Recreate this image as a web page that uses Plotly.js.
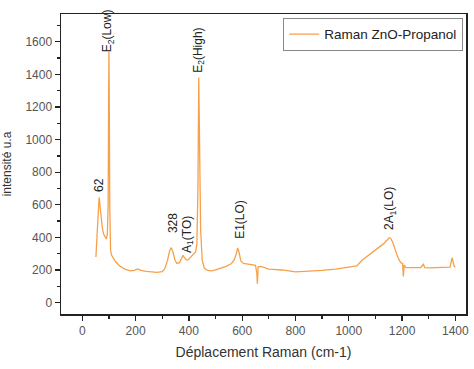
<!DOCTYPE html>
<html>
<head>
<meta charset="utf-8">
<script src="https://cdn.plot.ly/plotly-3.0.1.min.js"></script>
<style>html,body{margin:0;padding:0;background:#fff;}#chart{width:474px;height:369px;}</style>
</head>
<body>
<div id="chart"></div>
<script>
const seriesName = "Raman ZnO-Propanol";
const shift = [51, 56, 60, 63, 66, 70, 75, 80, 85, 90, 94, 97, 99, 100, 101, 103, 106, 110, 116, 125, 140, 160, 180, 195, 208, 220, 240, 260, 280, 300, 310, 320, 328, 334, 340, 348, 355, 365, 372, 378, 383, 390, 397, 405, 415, 425, 430, 434, 437, 440, 444, 450, 458, 470, 485, 500, 520, 540, 560, 570, 578, 583, 588, 595, 605, 620, 640, 650, 655, 657, 660, 670, 700, 750, 800, 850, 900, 950, 1000, 1030, 1050, 1070, 1090, 1110, 1130, 1145, 1152, 1157, 1165, 1175, 1185, 1195, 1202, 1205, 1208, 1215, 1240, 1270, 1280, 1285, 1300, 1340, 1380, 1388, 1392, 1396, 1400];
const intensity = [280, 450, 600, 645, 600, 520, 460, 420, 400, 390, 420, 600, 1300, 1540, 1300, 600, 320, 290, 275, 250, 225, 205, 195, 198, 207, 198, 192, 188, 185, 190, 210, 260, 320, 337, 310, 260, 240, 245, 265, 290, 275, 262, 262, 275, 290, 310, 360, 700, 1380, 1000, 450, 260, 210, 197, 195, 200, 210, 222, 240, 262, 300, 335, 310, 255, 240, 235, 232, 228, 180, 115, 220, 222, 205, 200, 188, 192, 198, 205, 215, 225, 260, 285, 310, 335, 360, 385, 398, 395, 370, 320, 275, 245, 240, 160, 230, 215, 213, 215, 235, 215, 213, 215, 218, 275, 245, 220, 218];

const peakLabels = ["62", "E<sub>2</sub>(Low)", "328", "A<sub>1</sub>(TO)", "E<sub>2</sub>(High)", "E1(LO)", "2A<sub>1</sub>(LO)"];
const peakX = [62, 97, 338, 394, 435, 589, 1153];
const peakY = [720, 1665, 490, 417, 1546, 509, 577];

const annotations = peakLabels.map((t, i) => ({
  x: peakX[i], y: peakY[i], xref: 'x', yref: 'y', text: t, textangle: -90,
  showarrow: false, font: {family: 'Arial, Liberation Sans, sans-serif', size: 12, color: '#222'}
}));

const trace = {
  x: shift, y: intensity, type: 'scatter', mode: 'lines', name: seriesName,
  line: {color: '#f7a04b', width: 1.3}
};

const axisCommon = {
  showline: true, linecolor: '#222', linewidth: 1.5, mirror: true,
  ticks: 'outside', ticklen: 5, tickwidth: 1.3, tickcolor: '#222',
  showgrid: false, zeroline: false,
  tickfont: {family: 'Arial, Liberation Sans, sans-serif', size: 12, color: '#555'}
};

const layout = {
  width: 474, height: 369,
  margin: {l: 61, r: 8, t: 14, b: 55},
  paper_bgcolor: '#fff', plot_bgcolor: '#fff',
  showlegend: true,
  legend: {x: 0.993, y: 0.987, xanchor: 'right', yanchor: 'top', bordercolor: '#888', borderwidth: 1,
           bgcolor: '#fff', font: {family: 'Arial, Liberation Sans, sans-serif', size: 13.5, color: '#222'},
           itemwidth: 30, tracegroupgap: 0},
  xaxis: Object.assign({}, axisCommon, {
    range: [-80, 1440], dtick: 200, tick0: 0,
    minor: {ticks: 'outside', ticklen: 3, dtick: 100, tick0: 0, tickcolor: '#222'},
    title: {text: 'Déplacement Raman (cm-1)', standoff: 10,
            font: {family: 'Arial, Liberation Sans, sans-serif', size: 14, color: '#333'}}
  }),
  yaxis: Object.assign({}, axisCommon, {
    range: [-70, 1770], dtick: 200, tick0: 0,
    minor: {ticks: 'outside', ticklen: 3, dtick: 100, tick0: 0, tickcolor: '#222'},
    title: {text: 'intensité u.a', standoff: 12,
            font: {family: 'Arial, Liberation Sans, sans-serif', size: 12, color: '#333'}}
  }),
  annotations: annotations
};

Plotly.newPlot('chart', [trace], layout, {displayModeBar: false, staticPlot: true});
</script>
</body>
</html>
